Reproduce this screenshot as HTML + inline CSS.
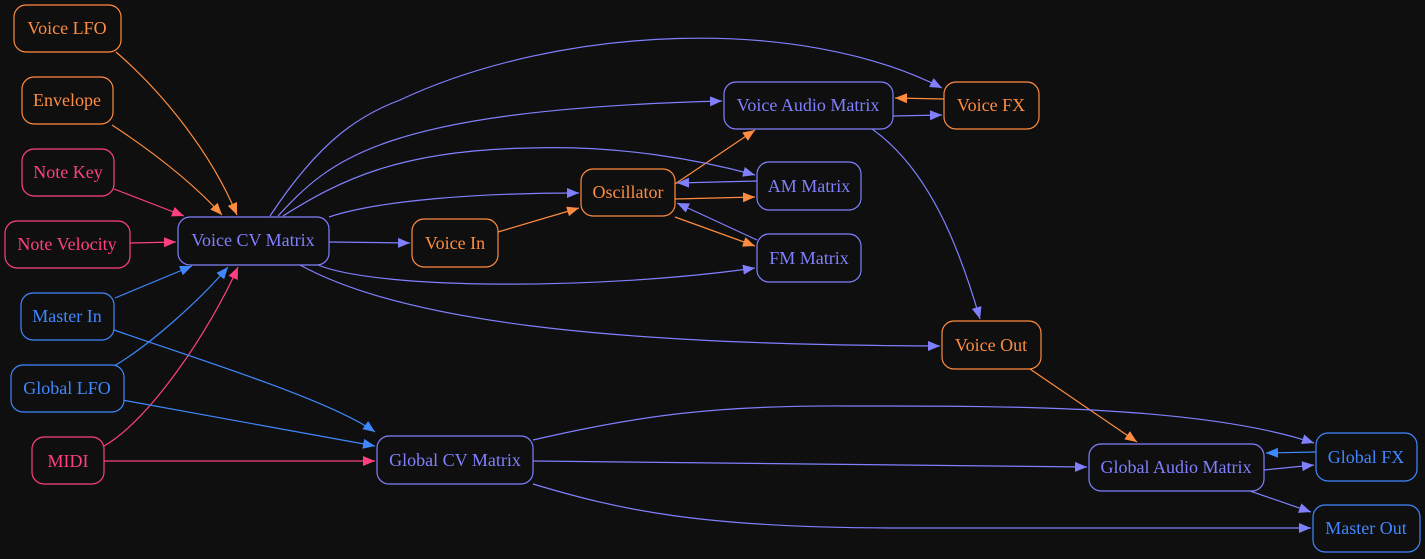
<!DOCTYPE html>
<html><head><meta charset="utf-8"><style>
html,body{margin:0;padding:0;background:#0f0f0f;}
svg{display:block}
svg text{font-family:"Liberation Serif","Times New Roman",Times,serif !important;font-size:18px;text-anchor:middle;dominant-baseline:central}
</style></head><body>
<svg width="1425" height="559" viewBox="0 0 1425 559" font-family="Liberation Serif, serif">
<rect width="1425" height="559" fill="#0f0f0f"/>
<defs>
<marker id="mo" markerUnits="userSpaceOnUse" markerWidth="13" markerHeight="10" refX="12" refY="5" orient="auto"><path d="M0,0 L12,5 L0,10 z" fill="#ff8c40"/></marker>
<marker id="mp" markerUnits="userSpaceOnUse" markerWidth="13" markerHeight="10" refX="12" refY="5" orient="auto"><path d="M0,0 L12,5 L0,10 z" fill="#8080ff"/></marker>
<marker id="mb" markerUnits="userSpaceOnUse" markerWidth="13" markerHeight="10" refX="12" refY="5" orient="auto"><path d="M0,0 L12,5 L0,10 z" fill="#4088ff"/></marker>
<marker id="mk" markerUnits="userSpaceOnUse" markerWidth="13" markerHeight="10" refX="12" refY="5" orient="auto"><path d="M0,0 L12,5 L0,10 z" fill="#ff4080"/></marker>
</defs>
<g fill="none" stroke-width="1.2">
<g stroke="#ff8c40" marker-end="url(#mo)">
<path d="M116,52 C160,90 210,150 237,215"/>
<path d="M112,125 C150,150 190,180 222,215"/>
<path d="M498,232 L579,208"/>
<path d="M675,184 L755,130"/>
<path d="M675,199 L755,197"/>
<path d="M675,217 L755,246"/>
<path d="M944,99 L895,98"/>
<path d="M1030,369 L1137,442"/>
</g>
<g stroke="#ff4080" marker-end="url(#mk)">
<path d="M114,189 L184,216"/>
<path d="M130,243 L176,242"/>
<path d="M104,446 C150,420 210,330 238,267"/>
<path d="M104,461 L375,461"/>
</g>
<g stroke="#4088ff" marker-end="url(#mb)">
<path d="M115,298 L192,266"/>
<path d="M114,366 C150,345 200,300 228,267"/>
<path d="M114,330 C200,360 330,400 375,432"/>
<path d="M122,400 L375,446"/>
<path d="M1316,452 L1266,453"/>
</g>
<g stroke="#8080ff" marker-end="url(#mp)">
<path d="M329,242 L410,243"/>
<path d="M329,217 C380,200 480,193 579,193"/>
<path d="M283,216 C340,180 400,150 530,148 C620,145 700,160 755,175"/>
<path d="M318,265 C380,290 600,290 755,268"/>
<path d="M300,265 C400,320 600,345 940,346"/>
<path d="M278,216 C330,160 380,110 722,101"/>
<path d="M270,216 C320,140 360,115 400,100 C560,25 800,15 942,88"/>
<path d="M757,181 L677,183"/>
<path d="M757,240 L677,203"/>
<path d="M893,116 L942,115"/>
<path d="M872,129 C930,170 960,250 980,319"/>
<path d="M533,440 C640,415 720,405 850,406 C1000,406 1200,405 1314,443"/>
<path d="M533,461 L1087,467"/>
<path d="M533,484 C620,510 700,528 900,528 L1311,528"/>
<path d="M1264,470 L1314,465"/>
<path d="M1250,491 L1311,512"/>
</g>
</g>
<g fill="#0f0f0f" stroke-width="1.2">
<g stroke="#ff8c40">
<rect x="14" y="5" width="107" height="47" rx="12"/>
<rect x="22" y="77" width="91" height="47" rx="12"/>
<rect x="412" y="219" width="86" height="48" rx="12"/>
<rect x="581" y="169" width="94" height="47" rx="12"/>
<rect x="944" y="82" width="95" height="47" rx="12"/>
<rect x="942" y="321" width="99" height="48" rx="12"/>
</g>
<g stroke="#ff4080">
<rect x="22" y="149" width="92" height="47" rx="12"/>
<rect x="5" y="221" width="125" height="47" rx="12"/>
<rect x="32" y="437" width="72" height="47" rx="12"/>
</g>
<g stroke="#4088ff">
<rect x="21" y="293" width="93" height="47" rx="12"/>
<rect x="11" y="365" width="113" height="47" rx="12"/>
<rect x="1316" y="433" width="101" height="48" rx="12"/>
<rect x="1313" y="505" width="107" height="47" rx="12"/>
</g>
<g stroke="#8080ff">
<rect x="178" y="217" width="151" height="48" rx="12"/>
<rect x="724" y="82" width="169" height="47" rx="12"/>
<rect x="757" y="162" width="104" height="48" rx="12"/>
<rect x="757" y="234" width="104" height="48" rx="12"/>
<rect x="377" y="436" width="156" height="48" rx="12"/>
<rect x="1089" y="444" width="175" height="47" rx="12"/>
</g>
</g>
<g fill="#ff8c40">
<text x="67" y="28">Voice LFO</text>
<text x="67" y="100">Envelope</text>
<text x="455" y="243">Voice In</text>
<text x="628" y="192">Oscillator</text>
<text x="991" y="105">Voice FX</text>
<text x="991" y="345">Voice Out</text>
</g>
<g fill="#ff4080">
<text x="68" y="172">Note Key</text>
<text x="67" y="244">Note Velocity</text>
<text x="68" y="461">MIDI</text>
</g>
<g fill="#4088ff">
<text x="67" y="316">Master In</text>
<text x="67" y="388">Global LFO</text>
<text x="1366" y="457">Global FX</text>
<text x="1366" y="528">Master Out</text>
</g>
<g fill="#8080ff">
<text x="253" y="240">Voice CV Matrix</text>
<text x="808" y="105">Voice Audio Matrix</text>
<text x="809" y="186">AM Matrix</text>
<text x="809" y="258">FM Matrix</text>
<text x="455" y="460">Global CV Matrix</text>
<text x="1176" y="467">Global Audio Matrix</text>
</g>
</svg>
</body></html>
